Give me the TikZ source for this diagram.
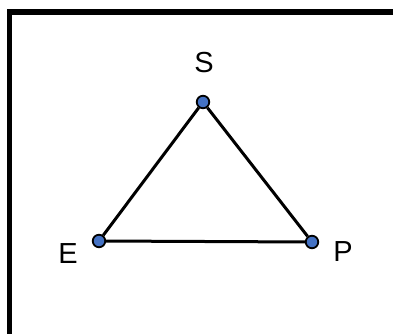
\documentclass[tikz,border=0pt]{standalone}
\usepackage{fontspec}
\setmainfont{Liberation Sans}
\definecolor{dotblue}{HTML}{4472C4}
\begin{document}
\begin{tikzpicture}[x=1pt,y=1pt,
  vertex/.style={circle,draw=black,line width=1.8pt,fill=dotblue,minimum size=12.5pt,inner sep=0pt},
  edge/.style={line width=3pt,black},
  lbl/.style={font=\fontsize{29}{33}\selectfont,inner sep=0pt}]
\useasboundingbox (0,0) rectangle (393,333);
\begin{scope}
\clip (0,0) rectangle (393,333);
\draw[line width=5.5pt,line cap=rect] (9.5,-10) -- (9.5,321) -- (410,321);
\end{scope}
\node[vertex] (S) at (203,231) {};
\node[vertex] (E) at (99,92) {};
\node[vertex] (P) at (312,91) {};
\draw[edge] (S) -- (E);
\draw[edge] (E) -- (P);
\draw[edge] (P) -- (S);
\node[lbl] (Sl) at (204,270) {S};
\node[lbl] (El) at (68,79) {E};
\node[lbl] (Pl) at (343,81) {P};
\end{tikzpicture}
\end{document}
